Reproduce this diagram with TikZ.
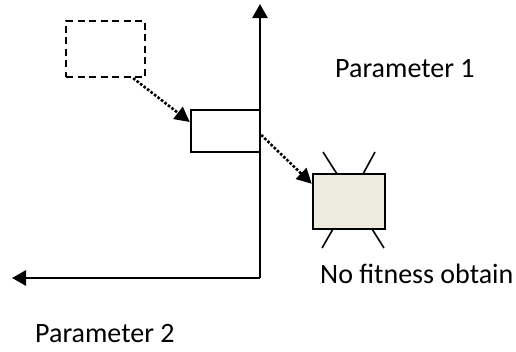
\documentclass[tikz,border=0pt]{standalone}
\usepackage{fontspec}
\setmainfont{Carlito}
\usetikzlibrary{arrows.meta,calc}
\definecolor{boxfill}{HTML}{EDEADF}
\tikzset{
  axisline/.style={line width=2.8pt,-{Triangle[length=14pt,width=15pt]}},
  probe/.style={draw,line width=2.4pt,inner sep=0pt},
  jump/.style={line width=2.6pt,dash pattern=on 2.6pt off 1.8pt,-{Triangle[length=15pt,width=15pt]}},
  ray/.style={line width=1.6pt},
  lbl/.style={font=\fontsize{28}{32}\selectfont,anchor=base west,inner sep=0pt}
}
\begin{document}
\begin{tikzpicture}[x=1pt,y=-1pt]
  \useasboundingbox (0,0) rectangle (516,351);
  % axes
  \coordinate (origin) at (260,278);
  \coordinate (ytop) at (260,4);
  \coordinate (xend) at (12,278);
  \draw[axisline] (origin) -- (ytop);
  \draw[axisline] (origin) -- (xend);
  % previous position (dashed), current position, failed position
  \node[probe,dash pattern=on 7pt off 4.5pt,minimum width=79pt,minimum height=56pt] (ghost) at (105.5,49) {};
  \node[probe,minimum width=69pt,minimum height=42pt] (cur) at (225.5,131) {};
  \node[probe,fill=boxfill,minimum width=72pt,minimum height=55pt] (bad) at (349,201.5) {};
  % moves
  \coordinate (m1) at ($(ghost.south east)+(-13,0)$);
  \coordinate (t1) at ($(cur.west)+(0,-9)$);
  \coordinate (m2) at ($(cur.east)+(0,4)$);
  \coordinate (t2) at ($(bad.north west)+(0,11)$);
  \draw[jump] (m1) -- (t1);
  \draw[jump] (m2) -- (t2);
  % rays around the failed box
  \draw[ray] (323,152) -- (337,174);
  \draw[ray] (375,152) -- (363,174);
  \draw[ray] (333,229) -- (322,248);
  \draw[ray] (372,229) -- (384,248);
  % labels
  \node[lbl] (p1) at (335,77) {Parameter 1};
  \node[lbl] (nf) at (320,283) {No fitness obtain};
  \node[lbl] (p2) at (35,342) {Parameter 2};
\end{tikzpicture}
\end{document}
